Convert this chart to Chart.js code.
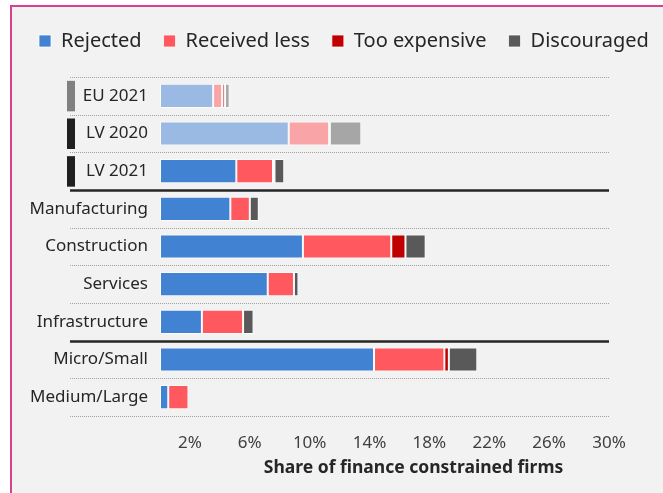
<!DOCTYPE html>
<html>
<head>
<meta charset="utf-8">
<script src="https://cdn.jsdelivr.net/npm/chart.js@4.4.0/dist/chart.umd.min.js"></script>
<style>
  html, body { margin: 0; padding: 0; background: #fff; }
  canvas { display: block; }
</style>
</head>
<body>
<canvas id="chart" width="663" height="493"></canvas>
<script>
// values in % of firms
const categories = ['EU 2021', 'LV 2020', 'LV 2021', 'Manufacturing', 'Construction', 'Services', 'Infrastructure', 'Micro/Small', 'Medium/Large']
const rejected = [3.55, 8.6, 5.1, 4.7, 9.55, 7.2, 2.8, 14.3, 0.55]
const receivedLess = [0.6, 2.7, 2.45, 1.3, 5.9, 1.75, 2.75, 4.7, 1.35]
const tooExpensive = [0.2, 0.05, 0.1, 0, 0.95, 0, 0, 0.3, 0]
const discouraged = [0.3, 2.1, 0.65, 0.6, 1.35, 0.3, 0.7, 1.9, 0]
const xTicks = [2, 6, 10, 14, 18, 22, 26, 30]
const axisTitle = 'Share of finance constrained firms'

// styling
const fadedRows = ['EU 2021', 'LV 2020']
const rowMarkers = { 'EU 2021': '#808080', 'LV 2020': '#1f1f1f', 'LV 2021': '#1f1f1f' }
const solidBreaks = [3, 7]
const fontFamily = '"Noto Sans", sans-serif'
const seriesColors = ['#4282d3', '#ff585e', '#c00000', '#595959']

Chart.defaults.font.family = fontFamily

function barColor(color) {
    return ctx => {
        if (ctx.type === 'data' && fadedRows.includes(categories[ctx.dataIndex])) return color + '80'
        return color
    }
}

function makeSet(label, data, color) {
    return {
        label: label,
        data: data,
        backgroundColor: barColor(color),
        borderColor: 'rgba(255,255,255,0.75)',
        borderWidth: 1,
        borderSkipped: false,
        barPercentage: 0.64,
        categoryPercentage: 1
    }
}

const framePlugin = {
    id: 'frame',
    beforeInit(chart) {
        // legend runs a bit wider than the plot, keep it on one row
        const legend = chart.legend
        const fit = legend.fit
        legend.fit = function () {
            this.maxWidth = chart.width + 40
            fit.call(this)
            this.height = 68
        }
    },
    afterLayout(chart) {
        chart.legend.right = chart.width + 40
    },
    beforeDraw(chart) {
        const ctx = chart.ctx
        ctx.save()
        ctx.fillStyle = '#ffffff'
        ctx.fillRect(0, 0, chart.width, chart.height)
        ctx.fillStyle = '#f2f2f2'
        ctx.fillRect(11, 6, chart.width - 11, chart.height - 6)
        ctx.fillStyle = '#d6428d'
        ctx.fillRect(10, 5, 2, chart.height - 5)
        ctx.fillRect(10, 5, chart.width - 10, 2)
        ctx.restore()
    },
    beforeDatasetsDraw(chart) {
        const { ctx } = chart
        const x = chart.scales.x
        const y = chart.scales.y
        const band = y.getPixelForValue(1) - y.getPixelForValue(0)
        const lineLeft = 70
        const lineRight = x.getPixelForValue(30)
        ctx.save()
        for (let i = 0; i <= categories.length; i++) {
            const py = Math.round(y.getPixelForValue(i) - band / 2)
            ctx.beginPath()
            if (solidBreaks.includes(i)) {
                ctx.setLineDash([])
                ctx.strokeStyle = '#262626'
                ctx.lineWidth = 2.5
            } else {
                ctx.setLineDash([1, 1])
                ctx.strokeStyle = '#a0a0a0'
                ctx.lineWidth = 1
            }
            ctx.moveTo(lineLeft, py + 0.5)
            ctx.lineTo(lineRight, py + 0.5)
            ctx.stroke()
        }
        // marker blocks in front of the benchmark rows
        categories.forEach((cat, i) => {
            if (!rowMarkers[cat]) return
            const cy = y.getPixelForValue(i)
            ctx.fillStyle = rowMarkers[cat]
            ctx.fillRect(67, cy - 15, 8, 30.5)
        })
        ctx.restore()
    },
    afterDraw(chart) {
        const { ctx } = chart
        const x = chart.scales.x
        ctx.save()
        ctx.font = 'bold 17.5px ' + fontFamily
        ctx.fillStyle = '#262626'
        ctx.textAlign = 'center'
        ctx.textBaseline = 'middle'
        ctx.fillText(axisTitle, (x.left + x.right) / 2 + 29, 468)
        ctx.restore()
    }
}

new Chart(document.getElementById('chart'), {
    type: 'bar',
    data: {
        labels: categories,
        datasets: [
            makeSet('Rejected', rejected, seriesColors[0]),
            makeSet('Received less', receivedLess, seriesColors[1]),
            makeSet('Too expensive', tooExpensive, seriesColors[2]),
            makeSet('Discouraged', discouraged, seriesColors[3])
        ]
    },
    options: {
        indexAxis: 'y',
        responsive: false,
        animation: false,
        layout: { padding: { left: 17, right: 0, top: 9, bottom: 40 } },
        plugins: {
            tooltip: { enabled: false },
            legend: {
                position: 'top',
                align: 'start',
                labels: {
                    boxWidth: 12,
                    boxHeight: 12,
                    padding: 22,
                    color: '#262626',
                    font: { size: 20 },
                    generateLabels: chart => {
                        const items = Chart.defaults.plugins.legend.labels.generateLabels(chart)
                        items.forEach((item, i) => { item.fillStyle = seriesColors[i] })
                        return items
                    }
                }
            }
        },
        scales: {
            x: {
                stacked: true,
                min: 0,
                max: 30,
                afterBuildTicks: axis => { axis.ticks = xTicks.map(v => ({ value: v })) },
                afterFit: s => { s.height = 37 },
                grid: { display: false, drawTicks: false },
                border: { display: false },
                ticks: {
                    padding: 17,
                    maxRotation: 0,
                    color: '#404040',
                    font: { size: 17 },
                    callback: v => v + '%'
                }
            },
            y: {
                stacked: true,
                grid: { display: false, drawTicks: false },
                border: { display: false },
                afterFit: s => { s.width = 143 },
                ticks: {
                    padding: 12,
                    color: '#262626',
                    font: { size: 17 }
                }
            },
            right: {
                position: 'right',
                grid: { display: false, drawTicks: false },
                border: { display: false },
                ticks: { display: false },
                afterFit: s => { s.width = 54 }
            }
        }
    },
    plugins: [framePlugin]
})
</script>
</body>
</html>
